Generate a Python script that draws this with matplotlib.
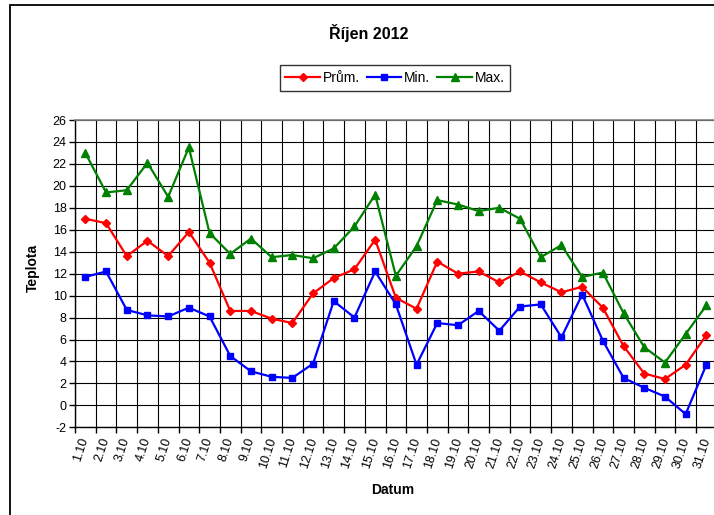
import matplotlib
matplotlib.use("Agg")
import matplotlib.pyplot as plt
import matplotlib.transforms as mtransforms
from matplotlib.patches import Rectangle
from matplotlib.lines import Line2D

plt.rcParams['font.family'] = ['Liberation Sans', 'DejaVu Sans']

days = [f"{d}.10" for d in range(1, 32)]
prum = [17.0, 16.6, 13.6, 15.0, 13.6, 15.8, 13.0, 8.6, 8.6, 7.9,
        7.5, 10.2, 11.6, 12.4, 15.1, 9.8, 8.8, 13.1, 12.0, 12.2,
        11.2, 12.2, 11.2, 10.3, 10.8, 8.9, 5.4, 2.9, 2.4, 3.7, 6.4]
minv = [11.7, 12.2, 8.7, 8.2, 8.1, 8.9, 8.1, 4.5, 3.1, 2.6,
        2.5, 3.8, 9.5, 8.0, 12.2, 9.2, 3.7, 7.5, 7.3, 8.6,
        6.8, 9.0, 9.2, 6.2, 10.1, 5.9, 2.5, 1.6, 0.8, -0.8, 3.7]
maxv = [23.0, 19.4, 19.6, 22.1, 19.0, 23.5, 15.7, 13.8, 15.2, 13.5,
        13.7, 13.4, 14.3, 16.3, 19.2, 11.8, 14.5, 18.7, 18.3, 17.7,
        18.0, 17.0, 13.5, 14.6, 11.7, 12.1, 8.4, 5.3, 3.9, 6.5, 9.1]
yticks = list(range(-2, 27, 2))

W, H = 714, 515
fig = plt.figure(figsize=(W / 100, H / 100), dpi=100)

# outer chart border (extends past right/bottom edges)
fig.patches.append(Rectangle((10 / W, -0.2), 1.5, 1.2 - 5 / H,
                             transform=fig.transFigure, fill=False,
                             edgecolor='black', linewidth=1.3))

left, top, bottom, right = 75, 120, 427.3, 716.7
ax = fig.add_axes([left / W, 1 - bottom / H, (right - left) / W, (bottom - top) / H])

x = list(range(1, 32))
ax.plot(x, prum, color='#ff0000', lw=1.6, marker='D', ms=4.5, label='Prům.', zorder=3)
ax.plot(x, minv, color='#0000ff', lw=1.6, marker='s', ms=5, label='Min.', zorder=3)
ax.plot(x, maxv, color='#008000', lw=1.6, marker='^', ms=6, label='Max.', zorder=3)

ax.set_xlim(0.5, 31.5)
ax.set_ylim(-2, 26)
ax.set_yticks(yticks)
ax.set_yticklabels([str(v) for v in yticks], fontsize=9)
ax.set_xticks(x)
ax.set_xticklabels([])
ax.set_xticks([i + 0.5 for i in range(0, 32)], minor=True)
ax.tick_params(axis='x', which='major', length=0)
ax.tick_params(axis='x', which='minor', length=4, width=1, direction='out')
ax.tick_params(axis='y', length=4, width=1, direction='out', pad=2)

# category labels, slightly left of category centres as in the reference
lab_trans = ax.get_xaxis_transform() + mtransforms.ScaledTranslation(
    -4 / 100, -9 / 100, fig.dpi_scale_trans)
for xi, d in zip(x, days):
    ax.text(xi, 0, d, transform=lab_trans, rotation=72, ha='center', va='top',
            fontsize=9, clip_on=False)

ax.grid(True, axis='y', which='major', color='black', lw=0.8)
ax.grid(True, axis='x', which='minor', color='black', lw=0.8)
ax.set_axisbelow(True)

for s in ['top', 'right']:
    ax.spines[s].set_color('#808080')
    ax.spines[s].set_linewidth(1.2)
for s in ['left', 'bottom']:
    ax.spines[s].set_color('black')
    ax.spines[s].set_linewidth(1.0)

fig.text(33 / W, 1 - 268 / H, 'Teplota', rotation=90, ha='center', va='center',
         fontsize=10, fontweight='bold')
fig.text(393 / W, 1 - 490 / H, 'Datum', ha='center', va='center',
         fontsize=10, fontweight='bold')
fig.text(369 / W, 1 - 33 / H, 'Říjen 2012', ha='center', va='center',
         fontsize=11.5, fontweight='bold')

handles = [Line2D([], [], color='#ff0000', lw=1.6, marker='D', ms=4.5),
           Line2D([], [], color='#0000ff', lw=1.6, marker='s', ms=5),
           Line2D([], [], color='#008000', lw=1.6, marker='^', ms=6)]
leg = fig.legend(handles, ['Prům.', 'Min.', 'Max.'], loc='center',
                 bbox_to_anchor=(395 / W, 1 - 78 / H), ncol=3, fontsize=10,
                 frameon=True, fancybox=False, edgecolor='black',
                 handlelength=2.5, handletextpad=0.2, columnspacing=0.5,
                 borderpad=0.4)
leg.get_frame().set_linewidth(1.0)

fig.savefig('out.png', dpi=100)
